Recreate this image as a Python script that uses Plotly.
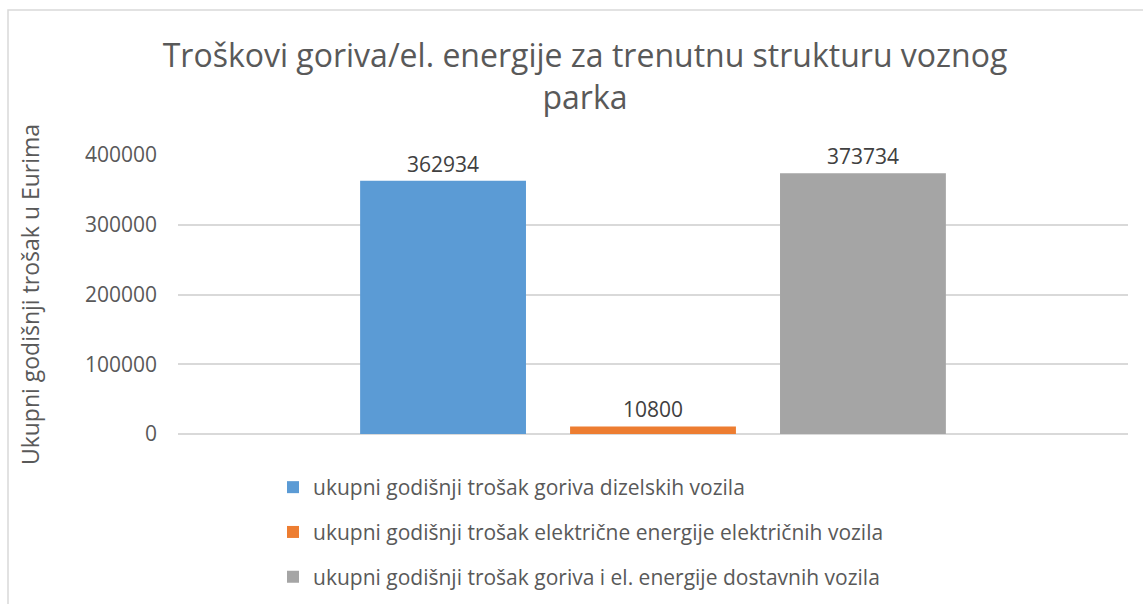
import plotly.graph_objects as go

categories = [""]
series_names = [
    "ukupni godišnji trošak goriva dizelskih vozila",
    "ukupni godišnji trošak električne energije električnih vozila",
    "ukupni godišnji trošak goriva i el. energije dostavnih vozila",
]
series_values = [[362934], [10800], [373734]]
series_colors = ["#5B9BD5", "#ED7D31", "#A5A5A5"]
y_ticks = [0, 100000, 200000, 300000, 400000]

W, H = 1143, 604
L, R, T, B = 178, 15, 155, 170
pw, ph = W - L - R, H - T - B

def px_to_paper_x(px):
    return (px - L) / pw

def px_to_paper_y(py):
    return (H - B - py) / ph

fig = go.Figure()
for name, vals, col in zip(series_names, series_values, series_colors):
    fig.add_trace(go.Bar(
        x=categories, y=vals, name=name, legendgroup=name,
        marker=dict(color=col, line=dict(width=0)),
        text=[str(v) for v in vals], textposition="outside",
        textfont=dict(family="Open Sans", size=21, color="#404040"),
        cliponaxis=False,
    ))

fig.update_layout(
    width=W, height=H,
    margin=dict(l=L, r=R, t=T, b=B, autoexpand=False),
    paper_bgcolor="white", plot_bgcolor="white",
    barmode="group", bargap=0.337, bargroupgap=0.21,
    font=dict(family="Open Sans", color="#595959"),
    title=dict(
        text="Troškovi goriva/el. energije za trenutnu strukturu voznog<br>parka",
        x=585 / W, xanchor="center", xref="container",
        y=1 - 67 / H, yanchor="top", yref="container",
        font=dict(family="Open Sans", size=32, color="#595959"),
    ),
    showlegend=True,
    legend=dict(
        orientation="v", x=px_to_paper_x(273), xanchor="left",
        y=px_to_paper_y(467), yanchor="top",
        font=dict(family="Open Sans", size=21, color="#595959"),
        tracegroupgap=14.5, bgcolor="rgba(0,0,0,0)",
    ),
    xaxis=dict(showticklabels=False, showgrid=False, zeroline=False, showline=False),
    yaxis=dict(
        range=[0, 400000], tickvals=y_ticks, ticktext=[str(v) for v in y_ticks],
        showgrid=True, gridcolor="#D9D9D9", gridwidth=1.5,
        zeroline=True, zerolinecolor="#D9D9D9", zerolinewidth=1.5,
        showline=False, ticks="", ticklabelstandoff=20,
        tickfont=dict(family="Open Sans", size=21, color="#595959"),
        title=dict(text="Ukupni godišnji trošak u Eurima", standoff=38,
                   font=dict(family="Open Sans", size=23, color="#595959")),
    ),
    shapes=[dict(
        type="rect", xref="paper", yref="paper",
        x0=px_to_paper_x(8), x1=px_to_paper_x(W + 20),
        y0=px_to_paper_y(H + 20), y1=px_to_paper_y(10),
        line=dict(color="#D9D9D9", width=1.5), fillcolor="rgba(0,0,0,0)", layer="below",
    )],
)

fig.write_html("out.html", config={"displayModeBar": False},
               post_script="document.body.style.margin='0';")
